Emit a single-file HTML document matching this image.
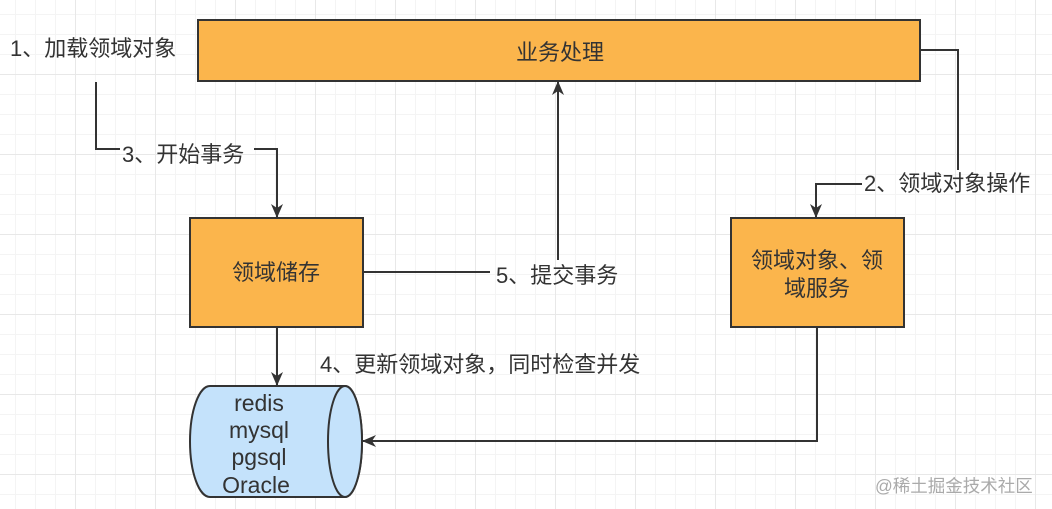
<!DOCTYPE html>
<html><head><meta charset="utf-8"><style>
body{margin:0;width:1052px;height:509px;overflow:hidden;background:#fff;
background-image:linear-gradient(#e8e8e8 1px,transparent 1px),linear-gradient(90deg,#e8e8e8 1px,transparent 1px),linear-gradient(#f4f4f4 1px,transparent 1px),linear-gradient(90deg,#f4f4f4 1px,transparent 1px);
background-size:80px 80px,80px 80px,20px 20px,20px 20px;background-position:-5px -6px;}
svg{position:absolute;left:0;top:0}
text{font-family:"Liberation Sans","Noto Sans CJK SC",sans-serif;font-size:22px;fill:#333}
</style></head><body>
<svg width="1052" height="509">
<defs><marker id="a" markerWidth="14" markerHeight="14" refX="13" refY="6" orient="auto" markerUnits="userSpaceOnUse"><path d="M0,0 L14,6 L0,12 L4,6z" fill="#333"/></marker></defs>
<g fill="#fbb54c" stroke="#333" stroke-width="2">
<rect x="198" y="20" width="722" height="61"/>
<rect x="190" y="218" width="173" height="109"/>
<rect x="731" y="218" width="173" height="109"/>
</g>
<path d="M210,386 H345 A17,55.5 0 0 1 345,497 H210 A20,55.5 0 0 1 210,386z" fill="#c4e2fb" stroke="#333" stroke-width="2"/>
<ellipse cx="345" cy="441.5" rx="17" ry="55.5" fill="#c4e2fb" stroke="#333" stroke-width="2"/>
<g fill="none" stroke="#333" stroke-width="2">
<path d="M96,82 V149 H120"/>
<path d="M254,149 H277 V217" marker-end="url(#a)"/>
<path d="M920,50 H958 V170"/>
<path d="M862,184 H816 V217" marker-end="url(#a)"/>
<path d="M363,272 H490"/>
<path d="M558,260 V82" marker-end="url(#a)"/>
<path d="M277,327 V385" marker-end="url(#a)"/>
<path d="M817,327 V441 H363" marker-end="url(#a)"/>
</g>
<text x="10" y="56">1、加载领域对象</text>
<text x="122" y="162">3、开始事务</text>
<text x="864" y="191">2、领域对象操作</text>
<text x="496" y="283">5、提交事务</text>
<text x="320" y="372">4、更新领域对象，同时检查并发</text>
<text x="560" y="60" text-anchor="middle">业务处理</text>
<text x="276" y="280" text-anchor="middle">领域储存</text>
<text x="817" y="268" text-anchor="middle">领域对象、领</text>
<text x="817" y="296" text-anchor="middle">域服务</text>
<g text-anchor="middle"><text x="259" y="411" style="font-size:23px">redis</text><text x="259" y="438" style="font-size:23px">mysql</text><text x="259" y="465" style="font-size:23px">pgsql</text><text x="256" y="493" style="font-size:23px">Oracle</text></g>
<text x="875" y="492" style="font-size:17.5px;fill:#aaa">@稀土掘金技术社区</text>
</svg>
</body></html>
